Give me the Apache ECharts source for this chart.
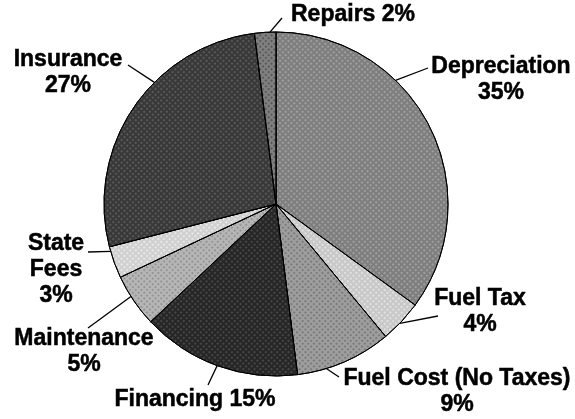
<!DOCTYPE html>
<html>
<head>
<meta charset="utf-8">
<script src="https://cdn.jsdelivr.net/npm/echarts@6/dist/echarts.min.js"></script>
<style>
    html, body { margin: 0; padding: 0; background: #fff; }
    #chart { width: 575px; height: 419px; }
</style>
</head>
<body>
<div id="chart"></div>
<script>
// slices, clockwise from 12 o'clock
var categories = ['Depreciation', 'Fuel Tax', 'Fuel Cost (No Taxes)', 'Financing', 'Maintenance', 'State Fees', 'Insurance', 'Repairs'];
var values = [35, 4, 9, 15, 5, 3, 27, 2];
// how each label is broken into lines
var labelNames = ['Depreciation', 'Fuel Tax', 'Fuel Cost (No Taxes)', 'Financing', 'Maintenance', 'State\nFees', 'Insurance', 'Repairs'];
var labelSep = ['\n', '\n', '\n', ' ', '\n', '\n', '\n', ' '];

// look of each slice (grey tone + halftone texture)
var fills = ['#7e7e7e', '#c8c8c8', '#9e9e9e', '#262626', '#b6b6b6', '#d0d0d0', '#383838', '#808080'];
var decalColors = ['rgba(255,255,255,0.25)', 'rgba(255,255,255,0.45)', 'rgba(0,0,0,0.22)', 'rgba(255,255,255,0.15)',
    'rgba(0,0,0,0.18)', 'rgba(255,255,255,0.5)', 'rgba(255,255,255,0.16)', 'rgba(0,0,0,0.3)'];
// label block centres, leader start angle (deg clockwise from top) and leader end
var labelPos = [[501, 80], [480, 312], [457, 392], [195, 400], [84, 352], [56, 270], [68, 73], [353, 15]];
var leaderAngle = [44, 134, 163, 200, 237.5, 254, 315, 358];
var leaderEnd = [[428, 68], [438, 316], [339, 377], [208, 385], [88, 328], [88, 252], [128, 65], [282, 18]];

var pieCenter = [276, 204];
var pieRadius = 172;

var myChart = echarts.init(document.getElementById('chart'), null, { renderer: 'canvas' });

var seriesData = categories.map(function (name, i) {
    return {
        name: name,
        value: values[i],
        itemStyle: {
            color: fills[i],
            decal: {
                symbol: 'rect',
                symbolSize: 1,
                color: decalColors[i],
                dashArrayX: [[2, 2]],
                dashArrayY: [2, 2],
                rotation: Math.PI / 4
            }
        }
    };
});

var option = {
    backgroundColor: '#fff',
    animation: false,
    series: [{
        type: 'pie',
        center: pieCenter,
        radius: pieRadius,
        startAngle: 90,
        clockwise: true,
        itemStyle: {
            borderColor: '#000',
            borderWidth: 1
        },
        label: {
            show: true,
            position: 'outside',
            overflow: 'none',
            color: '#000',
            fontFamily: 'Liberation Sans, Arial, sans-serif',
            fontWeight: 'bold',
            fontSize: 23,
            lineHeight: 26,
            align: 'center',
            textBorderColor: '#000',
            textBorderWidth: 0.5,
            formatter: function (p) {
                return labelNames[p.dataIndex] + labelSep[p.dataIndex] + p.value + '%';
            }
        },
        labelLine: {
            show: true,
            length: 10,
            length2: 10,
            lineStyle: { color: '#000', width: 1.3 }
        },
        labelLayout: function (params) {
            var i = params.dataIndex;
            var a = leaderAngle[i] * Math.PI / 180;
            var start = [pieCenter[0] + pieRadius * Math.sin(a), pieCenter[1] - pieRadius * Math.cos(a)];
            return {
                x: labelPos[i][0],
                y: labelPos[i][1],
                align: 'center',
                verticalAlign: 'middle',
                labelLinePoints: [start, leaderEnd[i]]
            };
        },
        data: seriesData
    }]
};

myChart.setOption(option);
</script>
</body>
</html>
